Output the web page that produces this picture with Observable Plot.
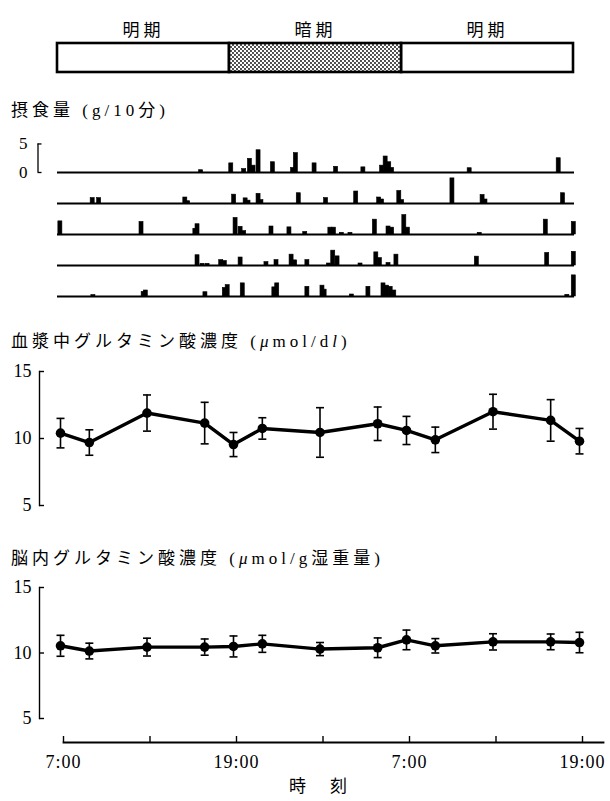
<!DOCTYPE html>
<html>
<head>
<meta charset="utf-8">
<script src="https://cdn.jsdelivr.net/npm/d3@7"></script>
<script src="https://cdn.jsdelivr.net/npm/@observablehq/plot@0.6"></script>
<style>
  body { margin: 0; background: #fff; }
  #fig { position: relative; width: 610px; height: 801px; overflow: hidden; background: #fff;
         font-family: "Liberation Serif", "Noto Sans CJK JP", serif; color: #000; }
  #fig svg { position: absolute; left: 0; overflow: visible; }
  .title { position: absolute; left: 11px; font-size: 17px; line-height: 17px; letter-spacing: 4px; white-space: nowrap; z-index: 2; }
  .title i { font-style: italic; }
</style>
</head>
<body>
<div id="fig"></div>
<script>
// ---------------- DATA ----------------
const periodLabels = ["明期", "暗期", "明期"];
const periodStart = [0, 12, 24];          // hours from 7:00
const periodEnd = [12, 24, 36];
const periodDark = [false, true, false];

// food intake (g / 10 min): [hour from 7:00, grams]
const intakeRow1 = [[10.0,0.4],[12.1,1.6],[13.0,0.6],[13.4,2.4],[13.65,1.2],[14.0,3.9],[15.0,1.8],[16.4,0.8],[16.6,3.4],[17.9,1.6],[19.4,1.0],[21.3,0.9],[22.6,1.2],[22.85,2.8],[23.1,1.8],[23.3,0.8],[28.7,0.75],[34.9,2.5]];
const intakeRow2 = [[2.45,0.95],[2.9,0.95],[8.9,1.05],[9.1,0.4],[12.3,1.55],[13.1,0.9],[13.3,0.5],[14.0,1.7],[14.2,0.6],[16.8,1.8],[18.7,0.95],[20.8,2.1],[22.4,1.05],[22.6,0.7],[23.8,2.2],[24.0,0.6],[27.5,4.4],[29.6,1.5],[29.8,0.7],[35.2,1.8]];
const intakeRow3 = [[0.2,2.3],[5.85,2.2],[9.6,1.0],[9.75,1.8],[12.4,2.9],[12.75,1.35],[13.0,0.6],[14.9,1.4],[16.15,1.25],[17.25,0.45],[19.0,1.2],[19.25,1.2],[19.8,0.3],[20.4,0.3],[22.1,2.6],[23.05,1.4],[23.3,1.2],[24.15,3.4],[24.4,1.2],[29.4,0.3],[34.0,2.6],[35.95,2.2]];
const intakeRow4 = [[9.75,1.8],[10.1,0.3],[10.45,0.3],[11.4,0.95],[11.65,0.8],[12.75,1.4],[14.55,0.6],[15.25,0.95],[16.3,1.9],[16.55,0.9],[17.4,0.95],[18.9,0.35],[19.2,2.6],[19.5,1.6],[21.1,0.35],[22.2,2.3],[22.45,1.3],[23.05,0.45],[23.6,1.9],[29.2,1.55],[34.1,2.2],[35.95,2.4]];
const intakeRow5 = [[2.5,0.25],[6.0,0.8],[6.15,1.05],[10.3,0.75],[11.65,1.5],[11.85,2.0],[12.9,2.3],[15.1,1.6],[15.3,2.3],[17.4,1.7],[18.45,1.9],[18.6,1.2],[20.5,0.35],[21.65,1.7],[22.7,2.3],[22.95,1.9],[23.2,1.7],[23.45,1.05],[35.5,0.3],[35.95,3.7]];
const intakeScaleTicks = [0, 5];

// sampling times (hours from 7:00)
const sampleHours = [0, 2, 6, 10, 12, 14, 18, 22, 24, 26, 30, 34, 36];
const plasmaMean = [10.4, 9.7, 11.9, 11.15, 9.55, 10.75, 10.45, 11.1, 10.6, 9.9, 12.0, 11.35, 9.8];
const plasmaSD   = [1.1, 0.95, 1.35, 1.55, 0.9, 0.8, 1.85, 1.25, 1.05, 0.95, 1.3, 1.55, 0.95];
const brainMean  = [10.55, 10.15, 10.45, 10.45, 10.5, 10.7, 10.3, 10.4, 11.0, 10.55, 10.85, 10.85, 10.8];
const brainSD    = [0.8, 0.6, 0.68, 0.62, 0.8, 0.65, 0.5, 0.75, 0.75, 0.55, 0.62, 0.6, 0.78];
const concTicks = [5, 10, 15];

const timeTicks = [0, 6, 12, 18, 24, 30, 36];
const timeLabelHours = [0, 12, 24, 36];
const timeLabels = ["7:00", "19:00", "7:00", "19:00"];
const timeAxisLabel = "時 刻";

const titleIntake = "摂食量 (g/10分)";
const titlePlasma = "血漿中グルタミン酸濃度 (<i>μ</i>mol/d<i>l</i>)";
const titleBrain  = "脳内グルタミン酸濃度 (<i>μ</i>mol/g湿重量)";

// ---------------- DRAW ----------------
const fig = document.getElementById("fig");
const FONT = '"Liberation Serif", "Noto Sans CJK JP", serif';
function place(el, top) { el.style.top = top + "px"; fig.appendChild(el); return el; }
function title(html, top) { const d = document.createElement("div"); d.className = "title"; d.innerHTML = html; d.style.top = top + "px"; fig.appendChild(d); }

// Top bar: light / dark periods
const periods = periodLabels.map((label, i) => ({label, start: periodStart[i], end: periodEnd[i], dark: periodDark[i]}));
const topBar = Plot.plot({
  width: 610, height: 80, marginLeft: 57, marginRight: 37, marginTop: 43, marginBottom: 8,
  x: {domain: [0, 36], axis: null}, y: {axis: null},
  style: {fontFamily: FONT, fontSize: "17px", letterSpacing: "4px", background: "transparent"},
  marks: [
    Plot.rect(periods.filter(d => !d.dark), {x1: "start", x2: "end", fill: "white", stroke: "black", strokeWidth: 2.6}),
    Plot.rect(periods.filter(d => d.dark), {x1: "start", x2: "end", fill: "url(#dots)", stroke: "black", strokeWidth: 2.6}),
    Plot.text(periods, {x: d => (d.start + d.end) / 2, text: "label", frameAnchor: "top", dy: -20, fill: "black"})
  ]
});
topBar.insertAdjacentHTML("afterbegin",
  '<defs><pattern id="dots" width="4" height="4" patternUnits="userSpaceOnUse">' +
  '<rect width="4" height="4" fill="#fff"/><circle cx="1" cy="1" r="0.9" fill="#000"/><circle cx="3" cy="3" r="0.9" fill="#000"/></pattern></defs>');
place(topBar, 0);

// Food intake rows
title(titleIntake, 102);
const rows = [intakeRow1, intakeRow2, intakeRow3, intakeRow4, intakeRow5];
const intake = rows.flatMap((r, i) => r.map(([t, g]) => ({row: i + 1, t, g})));
const food = Plot.plot({
  width: 610, height: 172, marginLeft: 57, marginRight: 36, marginTop: 9.5, marginBottom: 5,
  x: {domain: [0, 36], axis: null},
  y: {domain: [0, 5.43], axis: null},
  fy: {domain: [1, 2, 3, 4, 5], padding: 0, axis: null},
  style: {fontFamily: FONT, fontSize: "17px", background: "transparent"},
  marks: [
    Plot.ruleY([0], {stroke: "black", strokeWidth: 2}),
    Plot.rect(intake, {fy: "row", x1: d => d.t - 0.14, x2: d => d.t + 0.14, y1: 0, y2: "g", fill: "black", stroke: "black", strokeWidth: 0.6}),
    Plot.ruleX([1], {fy: d => d, x: () => 0, y1: () => intakeScaleTicks[0], y2: () => intakeScaleTicks[1], dx: -19.5, stroke: "black", strokeWidth: 1.3}),
    Plot.axisY(intakeScaleTicks, {anchor: "left", label: null, facetAnchor: "top", tickSize: -4, tickPadding: 14.5, dx: -19.5, strokeWidth: 1.3, fill: "black", fontSize: 17})
  ]
});
place(food, 130);

// Concentration panels
const cap = {draw(ctx) { ctx.moveTo(-4, 0); ctx.lineTo(4, 0); }};
function panel(mean, sd, height) {
  const data = sampleHours.map((t, i) => ({t, v: mean[i], e: sd[i]}));
  return Plot.plot({
    width: 610, height, marginLeft: 39, marginRight: 31, marginTop: 21, marginBottom: 14,
    x: {domain: [0, 36], insetLeft: 21, axis: null},
    y: {domain: [5, 15], axis: null},
    style: {fontFamily: FONT, fontSize: "18px", background: "transparent"},
    marks: [
      Plot.frame({anchor: "left", stroke: "black", strokeWidth: 1.4}),
      Plot.axisY(concTicks, {anchor: "left", label: null, tickSize: -5, tickPadding: 13, strokeWidth: 1.4, fill: "black", fontSize: 18}),
      Plot.ruleX(data, {x: "t", y1: d => d.v - d.e, y2: d => d.v + d.e, stroke: "black", strokeWidth: 1.6}),
      Plot.dot(data, {x: "t", y: d => d.v + d.e, symbol: cap, fill: "none", stroke: "black", strokeWidth: 1.6}),
      Plot.dot(data, {x: "t", y: d => d.v - d.e, symbol: cap, fill: "none", stroke: "black", strokeWidth: 1.6}),
      Plot.line(data, {x: "t", y: "v", stroke: "black", strokeWidth: 3.4}),
      Plot.dot(data, {x: "t", y: "v", r: 4.8, fill: "black", stroke: "none"})
    ]
  });
}
title(titlePlasma, 333);
place(panel(plasmaMean, plasmaSD, 169), 350);
title(titleBrain, 550);
place(panel(brainMean, brainSD, 166), 566);

// Time axis
const timeLabelData = timeLabelHours.map((t, i) => ({t, label: timeLabels[i]}));
const timeAxis = Plot.plot({
  width: 610, height: 71, marginLeft: 63, marginRight: 7, marginTop: 6, marginBottom: 59,
  x: {domain: [0, 36], insetRight: 21, axis: null}, y: {axis: null},
  style: {fontFamily: FONT, fontSize: "18px", letterSpacing: "1px", background: "transparent"},
  marks: [
    Plot.frame({anchor: "bottom", stroke: "black", strokeWidth: 1.8}),
    Plot.tickX(timeTicks, {x: d => d, stroke: "black", strokeWidth: 1.4}),
    Plot.text(timeLabelData, {x: "t", text: "label", frameAnchor: "bottom", dy: 25, fill: "black"}),
    Plot.text([timeAxisLabel], {x: () => d3.mean(timeLabelHours), text: d => d, frameAnchor: "bottom", dy: 49, fill: "black", fontSize: 17})
  ]
});
timeAxis.querySelectorAll("text").forEach(t => { if (t.textContent === timeAxisLabel) t.style.letterSpacing = "10px"; });
place(timeAxis, 730);
</script>
</body>
</html>
